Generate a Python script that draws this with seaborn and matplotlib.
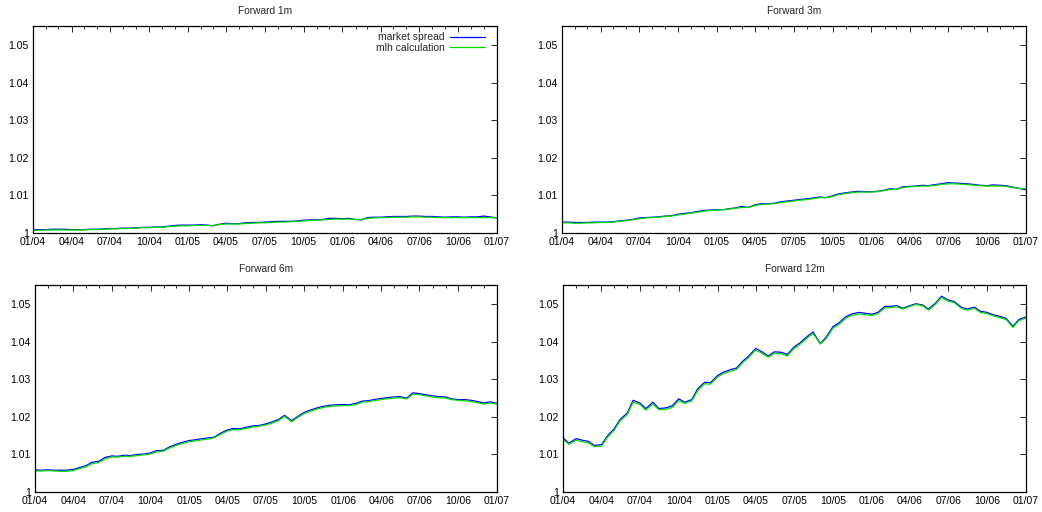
import numpy as np
import pandas as pd
import matplotlib
matplotlib.use("Agg")
import matplotlib.pyplot as plt
import matplotlib.dates as mdates
from matplotlib.ticker import FuncFormatter, MultipleLocator
import seaborn as sns

# semi-monthly sample dates, 01/2004 .. 01/2007
dates = pd.date_range("2004-01-01", periods=73, freq="SMS")

titles = ["Forward 1m", "Forward 3m", "Forward 6m", "Forward 12m"]
series_names = ["market spread", "mlh calculation"]

fwd1m_market = [1.0009, 1.0009, 1.0009, 1.0010, 1.0010, 1.0010, 1.0009, 1.0009, 1.0009, 1.0010,
                1.0010, 1.0011, 1.0012, 1.0012, 1.0013, 1.0013, 1.0014, 1.0015, 1.0015, 1.0016,
                1.0016, 1.0018, 1.0020, 1.0021, 1.0021, 1.0021, 1.0022, 1.0021, 1.0019, 1.0023,
                1.0026, 1.0025, 1.0025, 1.0027, 1.0028, 1.0028, 1.0029, 1.0030, 1.0031, 1.0031,
                1.0031, 1.0032, 1.0034, 1.0035, 1.0035, 1.0036, 1.0039, 1.0039, 1.0038, 1.0039,
                1.0036, 1.0035, 1.0041, 1.0042, 1.0042, 1.0043, 1.0044, 1.0044, 1.0044, 1.0045,
                1.0045, 1.0044, 1.0044, 1.0043, 1.0042, 1.0043, 1.0043, 1.0042, 1.0043, 1.0043,
                1.0045, 1.0043, 1.0040]
fwd1m_mlh = [1.0007, 1.0007, 1.0008, 1.0008, 1.0008, 1.0008, 1.0008, 1.0008, 1.0008, 1.0009,
             1.0009, 1.0010, 1.0011, 1.0011, 1.0012, 1.0012, 1.0013, 1.0014, 1.0014, 1.0015,
             1.0015, 1.0017, 1.0018, 1.0019, 1.0019, 1.0020, 1.0020, 1.0020, 1.0020, 1.0022,
             1.0024, 1.0024, 1.0024, 1.0025, 1.0026, 1.0027, 1.0027, 1.0028, 1.0029, 1.0029,
             1.0030, 1.0031, 1.0032, 1.0033, 1.0034, 1.0035, 1.0036, 1.0037, 1.0037, 1.0037,
             1.0036, 1.0036, 1.0039, 1.0040, 1.0041, 1.0041, 1.0042, 1.0042, 1.0042, 1.0043,
             1.0043, 1.0042, 1.0042, 1.0041, 1.0041, 1.0041, 1.0041, 1.0041, 1.0041, 1.0041,
             1.0041, 1.0041, 1.0040]

fwd3m_market = [1.0029, 1.0029, 1.0028, 1.0028, 1.0028, 1.0029, 1.0029, 1.0029, 1.0030, 1.0032,
                1.0034, 1.0036, 1.0040, 1.0041, 1.0042, 1.0043, 1.0045, 1.0046, 1.0050, 1.0052,
                1.0054, 1.0057, 1.0060, 1.0061, 1.0062, 1.0062, 1.0065, 1.0067, 1.0071, 1.0068,
                1.0075, 1.0078, 1.0078, 1.0079, 1.0083, 1.0085, 1.0087, 1.0089, 1.0091, 1.0093,
                1.0096, 1.0094, 1.0099, 1.0104, 1.0107, 1.0109, 1.0111, 1.0110, 1.0110, 1.0111,
                1.0114, 1.0118, 1.0116, 1.0123, 1.0124, 1.0125, 1.0127, 1.0126, 1.0129, 1.0131,
                1.0134, 1.0133, 1.0132, 1.0131, 1.0129, 1.0127, 1.0126, 1.0128, 1.0127, 1.0126,
                1.0122, 1.0119, 1.0115]
fwd3m_mlh = [1.0027, 1.0027, 1.0026, 1.0026, 1.0027, 1.0027, 1.0028, 1.0028, 1.0029, 1.0031,
             1.0033, 1.0035, 1.0038, 1.0040, 1.0041, 1.0042, 1.0044, 1.0045, 1.0048, 1.0050,
             1.0053, 1.0055, 1.0058, 1.0060, 1.0061, 1.0062, 1.0064, 1.0066, 1.0068, 1.0068,
             1.0073, 1.0076, 1.0077, 1.0078, 1.0081, 1.0083, 1.0085, 1.0087, 1.0089, 1.0091,
             1.0094, 1.0094, 1.0097, 1.0102, 1.0105, 1.0107, 1.0109, 1.0109, 1.0109, 1.0110,
             1.0113, 1.0116, 1.0116, 1.0121, 1.0123, 1.0124, 1.0125, 1.0125, 1.0127, 1.0129,
             1.0131, 1.0131, 1.0130, 1.0129, 1.0127, 1.0126, 1.0125, 1.0125, 1.0125, 1.0124,
             1.0121, 1.0119, 1.0118]

fwd6m_market = [1.0059, 1.0058, 1.0059, 1.0058, 1.0058, 1.0058, 1.0060, 1.0065, 1.0070, 1.0079,
                1.0082, 1.0092, 1.0096, 1.0095, 1.0098, 1.0097, 1.0100, 1.0101, 1.0104, 1.0110,
                1.0111, 1.0120, 1.0127, 1.0132, 1.0137, 1.0139, 1.0142, 1.0144, 1.0146, 1.0156,
                1.0165, 1.0169, 1.0168, 1.0172, 1.0176, 1.0177, 1.0181, 1.0186, 1.0193, 1.0204,
                1.0190, 1.0201, 1.0212, 1.0218, 1.0224, 1.0228, 1.0231, 1.0232, 1.0233, 1.0232,
                1.0236, 1.0242, 1.0243, 1.0246, 1.0249, 1.0251, 1.0253, 1.0254, 1.0250, 1.0264,
                1.0262, 1.0259, 1.0256, 1.0254, 1.0253, 1.0248, 1.0246, 1.0246, 1.0244, 1.0241,
                1.0237, 1.0240, 1.0236]
fwd6m_mlh = [1.0056, 1.0056, 1.0057, 1.0056, 1.0055, 1.0055, 1.0057, 1.0062, 1.0067, 1.0075,
             1.0079, 1.0088, 1.0093, 1.0093, 1.0095, 1.0095, 1.0097, 1.0099, 1.0101, 1.0107,
             1.0109, 1.0117, 1.0124, 1.0129, 1.0134, 1.0136, 1.0139, 1.0141, 1.0144, 1.0153,
             1.0162, 1.0166, 1.0166, 1.0169, 1.0173, 1.0175, 1.0178, 1.0183, 1.0190, 1.0201,
             1.0187, 1.0198, 1.0209, 1.0215, 1.0221, 1.0225, 1.0228, 1.0229, 1.0230, 1.0230,
             1.0233, 1.0239, 1.0240, 1.0243, 1.0246, 1.0248, 1.0250, 1.0251, 1.0248, 1.0260,
             1.0259, 1.0256, 1.0253, 1.0251, 1.0250, 1.0246, 1.0244, 1.0243, 1.0241, 1.0238,
             1.0234, 1.0237, 1.0234]

fwd12m_market = [1.0144, 1.0130, 1.0142, 1.0138, 1.0135, 1.0124, 1.0126, 1.0149, 1.0168, 1.0193,
                 1.0210, 1.0244, 1.0237, 1.0222, 1.0239, 1.0222, 1.0224, 1.0229, 1.0248, 1.0239,
                 1.0246, 1.0275, 1.0292, 1.0291, 1.0310, 1.0319, 1.0326, 1.0330, 1.0348, 1.0361,
                 1.0382, 1.0374, 1.0362, 1.0373, 1.0372, 1.0366, 1.0386, 1.0397, 1.0414, 1.0426,
                 1.0395, 1.0412, 1.0440, 1.0450, 1.0467, 1.0474, 1.0478, 1.0476, 1.0473, 1.0478,
                 1.0494, 1.0494, 1.0496, 1.0489, 1.0496, 1.0501, 1.0498, 1.0487, 1.0503, 1.0521,
                 1.0511, 1.0507, 1.0492, 1.0487, 1.0492, 1.0481, 1.0478, 1.0472, 1.0467, 1.0462,
                 1.0441, 1.0459, 1.0466]
fwd12m_mlh = [1.0140, 1.0127, 1.0138, 1.0134, 1.0131, 1.0121, 1.0122, 1.0145, 1.0164, 1.0189,
              1.0206, 1.0239, 1.0233, 1.0218, 1.0234, 1.0219, 1.0220, 1.0225, 1.0243, 1.0236,
              1.0242, 1.0270, 1.0288, 1.0287, 1.0306, 1.0315, 1.0322, 1.0326, 1.0344, 1.0357,
              1.0378, 1.0370, 1.0359, 1.0369, 1.0368, 1.0362, 1.0382, 1.0393, 1.0410, 1.0422,
              1.0394, 1.0408, 1.0436, 1.0446, 1.0463, 1.0470, 1.0474, 1.0472, 1.0470, 1.0474,
              1.0490, 1.0491, 1.0493, 1.0487, 1.0494, 1.0499, 1.0496, 1.0484, 1.0500, 1.0518,
              1.0508, 1.0504, 1.0489, 1.0484, 1.0489, 1.0478, 1.0475, 1.0469, 1.0464, 1.0459,
              1.0438, 1.0456, 1.0463]

panels = [(fwd1m_market, fwd1m_mlh), (fwd3m_market, fwd3m_mlh),
          (fwd6m_market, fwd6m_mlh), (fwd12m_market, fwd12m_mlh)]

sns.set_style("white")
plt.rcParams["font.family"] = ["Liberation Sans", "DejaVu Sans"]
plt.rcParams["font.size"] = 7

fig = plt.figure(figsize=(10.42, 5.12), dpi=100)
W, H = 1042, 512
# axes boxes in pixels: left, top, right, bottom
boxes = [(33, 26, 497, 233), (562, 26, 1026, 233),
         (35, 285, 497, 492), (563, 285, 1026, 492)]

palette = {"market spread": "#0000ff", "mlh calculation": "#00e000"}

for i, (title, (mkt, mlh)) in enumerate(zip(titles, panels)):
    l, t, r, b = boxes[i]
    ax = fig.add_axes([l / W, 1 - b / H, (r - l) / W, (b - t) / H])
    df = pd.DataFrame({
        "date": list(dates) * 2,
        "value": mkt + mlh,
        "series": [series_names[0]] * len(mkt) + [series_names[1]] * len(mlh),
    })
    sns.lineplot(data=df, x="date", y="value", hue="series", palette=palette,
                 linewidth=0.9, ax=ax, legend=(i == 0))
    ax.set_xlim(pd.Timestamp("2004-01-01"), pd.Timestamp("2007-01-01"))
    ax.set_ylim(1.0, 1.0551)
    ax.set_xlabel("")
    ax.set_ylabel("")
    ax.set_title(title, fontsize=7.3, pad=9)
    ax.xaxis.set_major_locator(mdates.MonthLocator(bymonth=[1, 4, 7, 10]))
    ax.xaxis.set_minor_locator(mdates.MonthLocator())
    ax.xaxis.set_major_formatter(mdates.DateFormatter("%m/%y"))
    ax.yaxis.set_major_locator(MultipleLocator(0.01))
    ax.yaxis.set_major_formatter(FuncFormatter(lambda v, p: f"{v:g}"))
    ax.tick_params(which="both", direction="in", top=True, right=True,
                   labelsize=7.5, colors="black", pad=3)
    ax.tick_params(which="major", length=4, width=0.6)
    ax.tick_params(which="minor", length=2.5, width=0.6)
    for s in ax.spines.values():
        s.set_color("black")
        s.set_linewidth(0.9)
    if i == 0:
        ax.legend(loc="upper right", bbox_to_anchor=(0.974, 0.970),
                  frameon=False, markerfirst=False,
                  fontsize=7.5, handlelength=3.4, handletextpad=0.5,
                  labelspacing=0.05, borderaxespad=0.0, borderpad=0.0,
                  title=None)

fig.savefig("out.png", dpi=100)
